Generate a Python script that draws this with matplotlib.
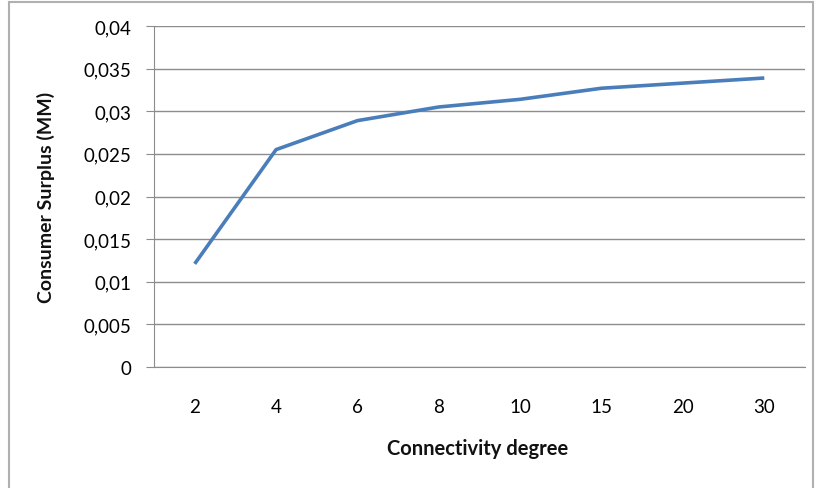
import matplotlib.pyplot as plt
import matplotlib.patches as mpatches
from matplotlib.ticker import FuncFormatter

# connectivity degree vs consumer surplus
degrees = ['2', '4', '6', '8', '10', '15', '20', '30']
surplus = [0.0121, 0.0255, 0.0289, 0.0305, 0.0314, 0.0327, 0.0333, 0.0339]
y_ticks = [0, 0.005, 0.01, 0.015, 0.02, 0.025, 0.03, 0.035, 0.04]

plt.rcParams['font.family'] = ['Lato', 'DejaVu Sans']

fig = plt.figure(figsize=(8.17, 4.89), dpi=100)
ax = fig.add_axes([154 / 817, 1 - 368 / 489, (805 - 154) / 817, (368 - 27) / 489])

x = range(len(degrees))
ax.plot(x, surplus, color='#4a7ebb', linewidth=2.6, solid_capstyle='butt')

ax.set_xlim(-0.5, len(degrees) - 0.5)
ax.set_ylim(0, 0.04)
ax.set_xticks(list(x))
ax.set_xticklabels(degrees)
ax.set_yticks(y_ticks)
# comma decimals
ax.yaxis.set_major_formatter(FuncFormatter(lambda v, p: ('%g' % round(v, 4)).replace('.', ',')))

ax.grid(axis='y', color='#8c8c8c', linewidth=1.0)
ax.set_axisbelow(True)
for s in ['top', 'right']:
    ax.spines[s].set_visible(False)
ax.spines['left'].set_color('#8c8c8c')
ax.spines['bottom'].set_color('#8c8c8c')
ax.tick_params(axis='y', length=6, color='#8c8c8c', labelsize=13.5, pad=10,
               labelcolor='#000000')
ax.tick_params(axis='x', length=0, labelsize=13.5, pad=22, labelcolor='#000000')

ax.set_xlabel('Connectivity degree', fontsize=14.5, fontweight='bold', color='#111111')
ax.set_ylabel('Consumer Surplus (MM)', fontsize=14, fontweight='bold', color='#111111')
ax.yaxis.set_label_coords(-(154 - 46) / 651, 0.5)
ax.xaxis.set_label_coords((478 - 154) / 651, -(449 - 368) / 341)
ax.xaxis.label.set_va('center')
ax.yaxis.label.set_va('center')

# outer chart frame
frame = mpatches.Rectangle((9 / 817, -0.1), (813 - 9) / 817, 1.1 - 3 / 489,
                           transform=fig.transFigure, fill=False,
                           edgecolor='#b0b0b0', linewidth=1.5)
fig.patches.append(frame)

fig.savefig('out.png', dpi=100)
